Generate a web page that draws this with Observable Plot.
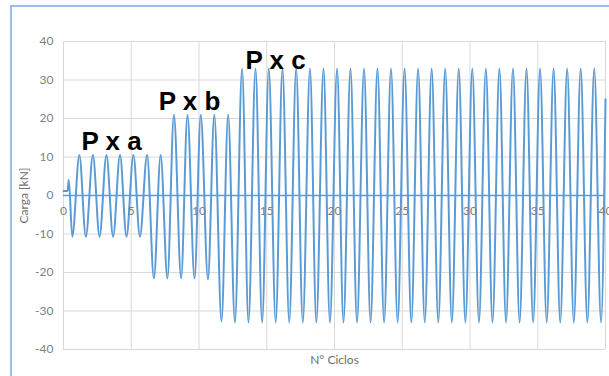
<!DOCTYPE html>
<html>
<head>
<meta charset="utf-8">
<script src="https://cdn.jsdelivr.net/npm/d3@7"></script>
<script src="https://cdn.jsdelivr.net/npm/@observablehq/plot@0.6"></script>
<style>
  html, body { margin: 0; padding: 0; background: #fff; }
  #wrap { position: relative; width: 609px; height: 376px; overflow: hidden; }
  #border { position: absolute; left: 10px; top: 5px; width: 800px; height: 600px;
            border-left: 2px solid #9dbce6; border-top: 2px solid #9dbce6; }
  #chart { position: absolute; left: 0; top: 0; }
</style>
</head>
<body>
<div id="wrap"><div id="border"></div><div id="chart"></div></div>
<script>
// Start of the test (pre-load step)
const startTimes = [0, 0.3, 0.39];
const startLoads = [1.2, 1.2, 4.1];

// Peaks (upper extremes) per stage
const peakTimes = [
  1.17, 2.17, 3.17, 4.17, 5.16, 6.17, 7.17,            // P x a
  8.15, 9.15, 10.13, 11.13, 12.15,                       // P x b
  13.18, 14.17, 15.15, 16.16, 17.17, 18.19, 19.19, 20.19, 21.18, 22.18,
  23.17, 24.17, 25.17, 26.17, 27.17, 28.17, 29.17, 30.17, 31.17, 32.17,
  33.17, 34.17, 35.17, 36.17, 37.17, 38.17, 39.17        // P x c
];
const peakLoads = [
  10.5, 10.5, 10.5, 10.5, 10.5, 10.5, 10.5,
  21, 21, 21, 21, 21,
  33, 33, 33, 33, 33, 33, 33, 33, 33, 33,
  33, 33, 33, 33, 33, 33, 33, 33, 33, 33,
  33, 33, 33, 33, 33, 33, 33
];

// Troughs (lower extremes) per stage
const troughTimes = [
  0.65, 1.65, 2.66, 3.66, 4.65, 5.64,
  6.67, 7.67, 8.68, 9.67, 10.66,
  11.66, 12.65, 13.65, 14.66, 15.66, 16.66, 17.66, 18.66, 19.66, 20.66,
  21.66, 22.66, 23.66, 24.66, 25.67, 26.66, 27.66, 28.66, 29.66, 30.66,
  31.66, 32.66, 33.66, 34.66, 35.66, 36.66, 37.66, 38.66, 39.67
];
const troughLoads = [
  -10.7, -10.7, -10.7, -10.7, -10.7, -10.7,
  -21.5, -21.5, -21.5, -21.5, -21.8,
  -32.7, -33, -33, -33, -33, -33, -33, -33, -33, -33,
  -33, -33, -33, -33, -33, -33, -33, -33, -33, -33,
  -33, -33, -33, -33, -33, -33, -33, -33, -33
];

const endTimes = [40];
const endLoads = [25];

const xTicks = [0, 5, 10, 15, 20, 25, 30, 35, 40];
const yTicks = [-40, -30, -20, -10, 0, 10, 20, 30, 40];

const labels = ["P x a", "P x b", "P x c"];
const labelTimes = [1.33, 7.03, 13.43];
const labelLoads = [11.7, 22.1, 32.9];

const pts = [];
startTimes.forEach((t, i) => pts.push({t, v: startLoads[i]}));
peakTimes.forEach((t, i) => pts.push({t, v: peakLoads[i]}));
troughTimes.forEach((t, i) => pts.push({t, v: troughLoads[i]}));
endTimes.forEach((t, i) => pts.push({t, v: endLoads[i]}));
pts.sort((a, b) => a.t - b.t);

const labelData = labels.map((s, i) => ({s, t: labelTimes[i], v: labelLoads[i]}));

const blue = "#5b9bd5";
const grid = "#d9d9d9";
const tickColor = "#7f7f7f";
const font = "Lato, 'Open Sans', sans-serif";

const chart = Plot.plot({
  width: 609,
  height: 376,
  marginLeft: 63,
  marginRight: 4,
  marginTop: 41,
  marginBottom: 27,
  style: {background: "transparent", fontFamily: font, overflow: "visible"},
  x: {domain: [0, 40], axis: null},
  y: {domain: [-40, 40], axis: null},
  marks: [
    Plot.gridX(xTicks, {stroke: grid, strokeOpacity: 1, strokeWidth: 1}),
    Plot.gridY(yTicks, {stroke: grid, strokeOpacity: 1, strokeWidth: 1}),
    Plot.text(yTicks, {x: 0, y: d => d, text: d => String(d), textAnchor: "end", dx: -10,
      fill: tickColor, fontSize: 12, fontFamily: font}),
    Plot.ruleY([0], {stroke: blue, strokeWidth: 1.5}),
    Plot.line(pts, {x: "t", y: "v", stroke: blue, strokeWidth: 2, curve: "monotone-x"}),
    Plot.text(xTicks, {x: d => d, y: 0, dy: 16, text: d => String(d),
      fill: tickColor, fontSize: 12, fontFamily: font}),
    Plot.text(["Carga [kN]"], {x: 0, y: 0, dx: -39, rotate: -90, text: d => d,
      textAnchor: "middle", lineAnchor: "middle",
      fill: "#6f6f6f", fontSize: 12, fontFamily: font}),
    Plot.text(["N° Ciclos"], {x: 20, y: -40, dy: 11, text: d => d,
      textAnchor: "middle", lineAnchor: "middle",
      fill: "#6f6f6f", fontSize: 12, fontFamily: font}),
    Plot.text(labelData, {x: "t", y: "v", text: "s", textAnchor: "start", lineAnchor: "bottom",
      fill: "#000", fontSize: 26, fontWeight: "bold", fontFamily: "'Liberation Sans', Arial, sans-serif"})
  ]
});
document.getElementById("chart").appendChild(chart);
</script>
</body>
</html>
